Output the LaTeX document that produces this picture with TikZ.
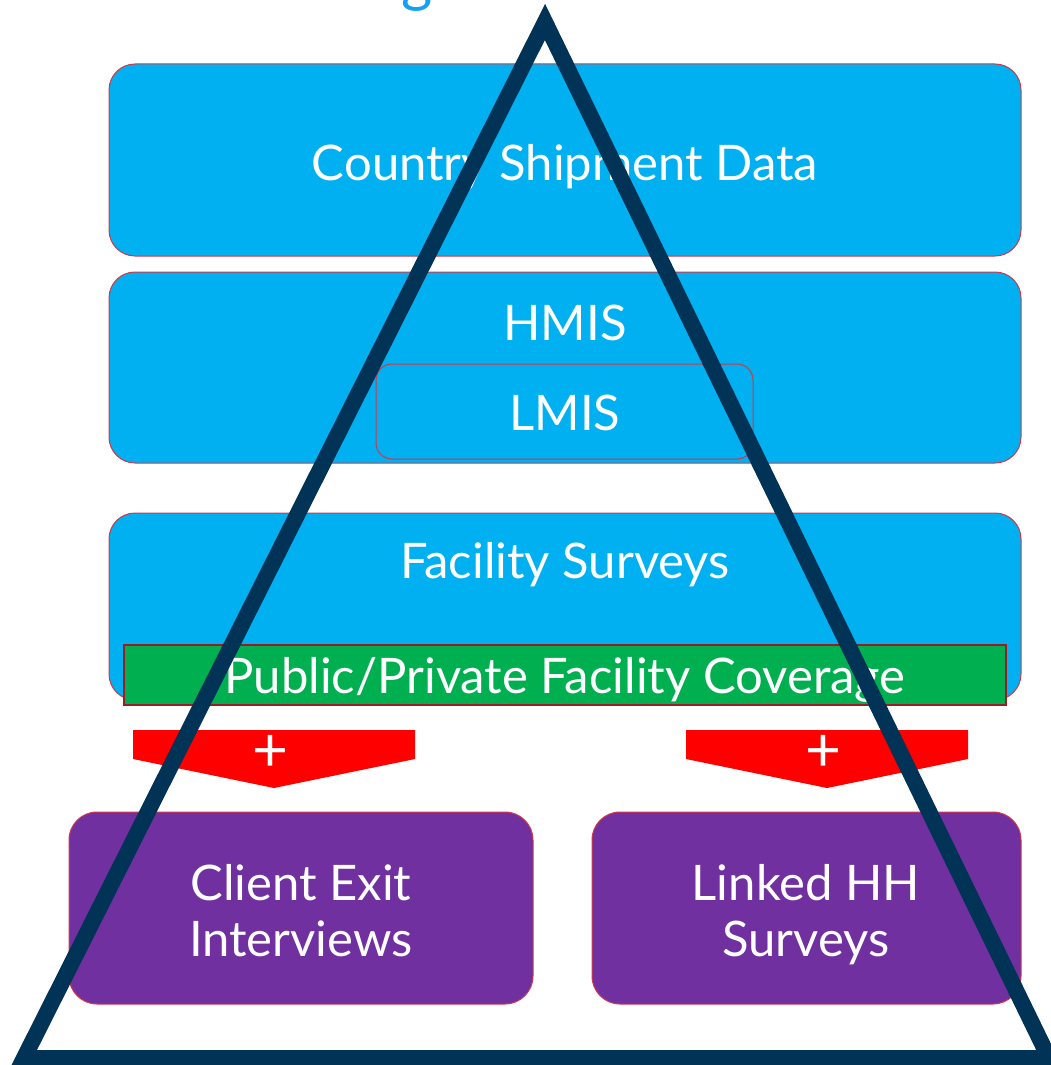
\documentclass[tikz,border=0pt]{standalone}
\usepackage{fontspec}
\setmainfont{Lato}
\usetikzlibrary{positioning}

\definecolor{layerblue}{HTML}{00B0F0}
\definecolor{titleblue}{HTML}{14A0F5}
\definecolor{covergreen}{HTML}{00B050}
\definecolor{linkpurple}{HTML}{7030A0}
\definecolor{edgered}{HTML}{D0384A}
\definecolor{bardarkred}{HTML}{9A1C24}
\definecolor{plusred}{HTML}{FF0000}
\definecolor{pyramidnavy}{HTML}{003355}

\begin{document}
\begin{tikzpicture}[x=1pt, y=-1pt,
    layer/.style={draw=edgered, line width=1pt, fill=layerblue, rounded corners=26pt},
    probe/.style={draw=edgered, line width=1pt, fill=linkpurple, rounded corners=28pt},
    lbl/.style={text=white, anchor=base, inner sep=0pt, font=\fontsize{49}{56}\selectfont, align=center}]
    \useasboundingbox (0,0) rectangle (1051,1065);

    % --- cut-off title ---
    \node[text=titleblue, anchor=base, inner sep=0pt, font=\fontsize{60}{60}\selectfont] (title) at (417,1) {g};

    % --- data layers ---
    \node[layer, minimum width=912pt, minimum height=192pt] (ship) at (565,160) {};
    \node[layer, minimum width=912pt, minimum height=191pt] (hmis) at (565,367.5) {};
    \node[layer, rounded corners=16pt, minimum width=377pt, minimum height=95pt] (lmis) at (564.5,411.5) {};
    \node[layer, minimum width=912pt, minimum height=187pt] (fac) at (565,606.5) {};
    \node[draw=bardarkred, line width=2pt, fill=covergreen, minimum width=882pt, minimum height=60pt] (cover) at (565,675) {};

    \node[lbl] (shiptxt) at (565,180) {Country Shipment Data};
    \node[lbl] (hmistxt) at (565,340) {HMIS};
    \node[lbl] (lmistxt) at (565,430) {LMIS};
    \node[lbl] (factxt) at (565,578) {Facility Surveys};
    \node[lbl] (covertxt) at (565,693) {Public/Private Facility Coverage};

    % --- linked surveys ---
    \node[probe, minimum width=464pt, minimum height=192pt] (exit) at (301,908) {};
    \node[probe, minimum width=429pt, minimum height=192pt] (hh) at (806.5,908) {};
    \node[lbl] (exittxt) at (301,956) {Client Exit\\Interviews};
    \node[lbl] (hhtxt) at (806,956) {Linked HH\\Surveys};

    % Red "+" chevrons
    \foreach \ax/\nm in {274/left, 827/right} {
        \fill[plusred] (\ax-141,730) -- (\ax+141,730) -- (\ax+141,759) -- (\ax,788) -- (\ax-141,759) -- cycle;
        \node[lbl, anchor=center, font=\fontsize{62}{62}\selectfont] (plus\nm) at (\ax-4,753) {+};
    }

    % --- pyramid on top ---
    \coordinate (apex) at (545,22); \coordinate (bl) at (24,1058); \coordinate (br) at (1049,1058);
    \draw[pyramidnavy, line width=16pt, line join=miter] (apex)--(bl)--(br)--cycle;
\end{tikzpicture}
\end{document}
